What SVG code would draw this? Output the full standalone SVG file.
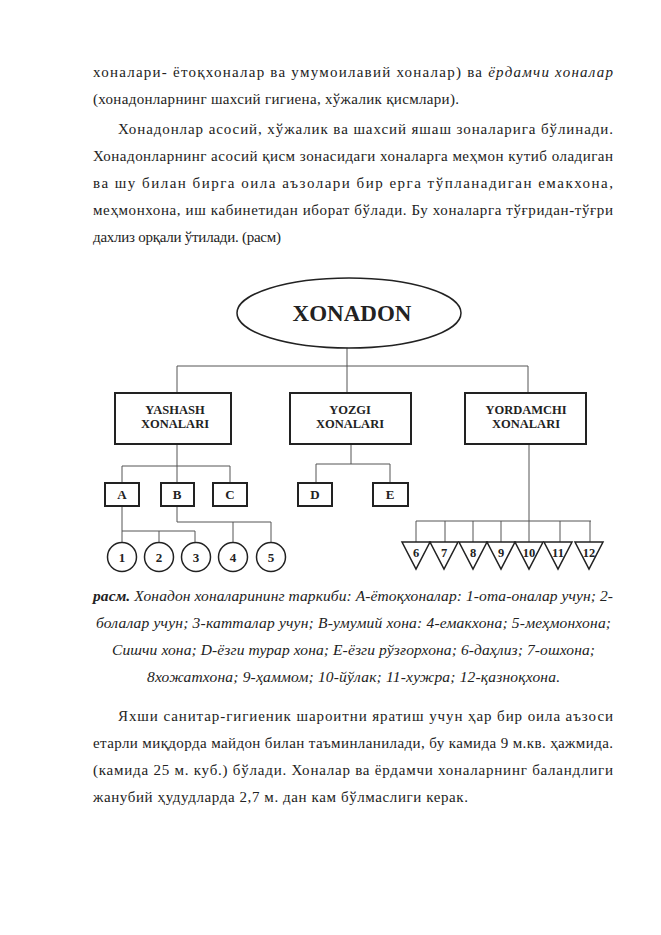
<svg xmlns="http://www.w3.org/2000/svg" width="661" height="935" viewBox="0 0 661 935">
<style>
.p{font-family:"Liberation Serif","Times New Roman",serif;font-size:15px;fill:#222}
.i{font-style:italic}
.b{font-weight:bold}
.cap{font-family:"Liberation Serif","Times New Roman",serif;font-size:15.5px;font-style:italic;fill:#222}
.n{font-family:"Liberation Serif","Times New Roman",serif;font-weight:bold;fill:#222;text-anchor:middle}
.box{fill:#fff;stroke:#222;stroke-width:2}
.sh{fill:#fff;stroke:#222;stroke-width:1.5}
.c{stroke:#555;stroke-width:1;fill:none}
</style>
<rect width="661" height="935" fill="#fff"/>
<g id="top-text">
<text class="p" x="93" y="77" textLength="520" lengthAdjust="spacing">хоналари- ётоқхоналар ва умумоилавий хоналар) ва <tspan class="i">ёрдамчи хоналар</tspan></text>
<text class="p" x="93" y="104" textLength="366" lengthAdjust="spacing">(хонадонларнинг шахсий гигиена, хўжалик қисмлари).</text>
<text class="p" x="118" y="134" textLength="495" lengthAdjust="spacing">Хонадонлар асосий, хўжалик ва шахсий яшаш зоналарига бўлинади.</text>
<text class="p" x="93" y="161" textLength="520" lengthAdjust="spacing">Хонадонларнинг асосий қисм зонасидаги хоналарга меҳмон кутиб оладиган</text>
<text class="p" x="93" y="188" textLength="520" lengthAdjust="spacing">ва шу билан бирга оила аъзолари бир ерга тўпланадиган емакхона,</text>
<text class="p" x="93" y="215" textLength="520" lengthAdjust="spacing">меҳмонхона, иш кабинетидан иборат бўлади. Бу хоналарга тўғридан-тўғри</text>
<text class="p" x="93" y="242" textLength="188" lengthAdjust="spacing">дахлиз орқали ўтилади. (расм)</text>
</g>
<g id="connectors">
<path class="c" d="M347 348V366M177 366H528M177 366V393M347 366V393M528 366V393"/>
<path class="c" d="M177 445V466M122 466H230M122 466V483M177 466V483M230 466V483"/>
<path class="c" d="M351 445V464M316 464H390M316 464V483M390 464V483"/>
<path class="c" d="M529 445V543M416 521H591M416 521V543M445 521V543M473 521V543M501 521V543M560 521V543M590 521V543"/>
<path class="c" d="M122 506V543M122 531H195M159 531V543M195 531V543"/>
<path class="c" d="M177 506V522M177 522H271M233 522V543M271 522V543"/>
</g>
<g id="xonadon">
<ellipse cx="349" cy="313" rx="112" ry="35" class="sh"/>
<text class="n" x="352" y="321" font-size="23">XONADON</text>
</g>
<g id="yashash">
<rect class="box" x="115" y="393" width="116" height="51"/>
<text class="n" x="175" y="414" font-size="12.5">YASHASH</text>
<text class="n" x="175" y="428" font-size="12.5">XONALARI</text>
</g>
<g id="yozgi">
<rect class="box" x="290" y="393" width="121" height="51"/>
<text class="n" x="350" y="414" font-size="12.5">YOZGI</text>
<text class="n" x="350" y="428" font-size="12.5">XONALARI</text>
</g>
<g id="yordamchi">
<rect class="box" x="465" y="393" width="121" height="51"/>
<text class="n" x="526" y="414" font-size="12.5">YORDAMCHI</text>
<text class="n" x="526" y="428" font-size="12.5">XONALARI</text>
</g>
<g id="A"><rect class="box" x="105" y="483" width="34" height="23"/><text class="n" x="122" y="499" font-size="13">A</text></g>
<g id="B"><rect class="box" x="161" y="483" width="33" height="23"/><text class="n" x="177" y="499" font-size="13">B</text></g>
<g id="C"><rect class="box" x="213" y="483" width="34" height="23"/><text class="n" x="230" y="499" font-size="13">C</text></g>
<g id="D"><rect class="box" x="298" y="483" width="34" height="23"/><text class="n" x="315" y="499" font-size="13">D</text></g>
<g id="E"><rect class="box" x="373" y="483" width="35" height="23"/><text class="n" x="390" y="499" font-size="13">E</text></g>
<g id="n1"><circle class="sh" cx="122" cy="557" r="14.5"/><text class="n" x="122" y="562" font-size="13">1</text></g>
<g id="n2"><circle class="sh" cx="159" cy="557" r="14.5"/><text class="n" x="159" y="562" font-size="13">2</text></g>
<g id="n3"><circle class="sh" cx="196" cy="557" r="14.5"/><text class="n" x="196" y="562" font-size="13">3</text></g>
<g id="n4"><circle class="sh" cx="233" cy="557" r="14.5"/><text class="n" x="233" y="562" font-size="13">4</text></g>
<g id="n5"><circle class="sh" cx="271" cy="557" r="14.5"/><text class="n" x="271" y="562" font-size="13">5</text></g>
<g id="n6"><path class="sh" d="M402 542H430L416 569Z"/><text class="n" x="416" y="557" font-size="12.5">6</text></g>
<g id="n7"><path class="sh" d="M430 542H458L444 569Z"/><text class="n" x="444" y="557" font-size="12.5">7</text></g>
<g id="n8"><path class="sh" d="M459 542H487L473 569Z"/><text class="n" x="473" y="557" font-size="12.5">8</text></g>
<g id="n9"><path class="sh" d="M487 542H515L501 569Z"/><text class="n" x="501" y="557" font-size="12.5">9</text></g>
<g id="n10"><path class="sh" d="M515 542H543L529 569Z"/><text class="n" x="529" y="557" font-size="12.5">10</text></g>
<g id="n11"><path class="sh" d="M544 542H572L558 569Z"/><text class="n" x="558" y="557" font-size="12.5">11</text></g>
<g id="n12"><path class="sh" d="M575 542H603L589 569Z"/><text class="n" x="589" y="557" font-size="12.5">12</text></g>
<g id="caption">
<text class="cap" x="93" y="601" textLength="520" lengthAdjust="spacing"><tspan class="b">расм.</tspan> Хонадон хоналарининг таркиби: А-ётоқхоналар: 1-ота-оналар учун; 2-</text>
<text class="cap" x="96" y="628" textLength="515" lengthAdjust="spacing">болалар учун; 3-катталар учун; В-умумий хона: 4-емакхона; 5-меҳмонхона;</text>
<text class="cap" x="112" y="655" textLength="483" lengthAdjust="spacing">Сишчи хона; D-ёзги турар хона; Е-ёзги рўзғорхона; 6-даҳлиз; 7-ошхона;</text>
<text class="cap" x="147" y="682" textLength="413" lengthAdjust="spacing">8хожатхона; 9-ҳаммом; 10-йўлак; 11-хужра; 12-қазноқхона.</text>
</g>
<g id="bottom-text">
<text class="p" x="118" y="721" textLength="495" lengthAdjust="spacing">Яхши санитар-гигиеник шароитни яратиш учун ҳар бир оила аъзоси</text>
<text class="p" x="93" y="748" textLength="520" lengthAdjust="spacing">етарли миқдорда майдон билан таъминланилади, бу камида 9 м.кв. ҳажмида.</text>
<text class="p" x="93" y="775" textLength="520" lengthAdjust="spacing">(камида 25 м. куб.) бўлади. Хоналар ва ёрдамчи хоналарнинг баландлиги</text>
<text class="p" x="93" y="802" textLength="375" lengthAdjust="spacing">жанубий ҳудудларда 2,7 м. дан кам бўлмаслиги керак.</text>
</g>
</svg>
